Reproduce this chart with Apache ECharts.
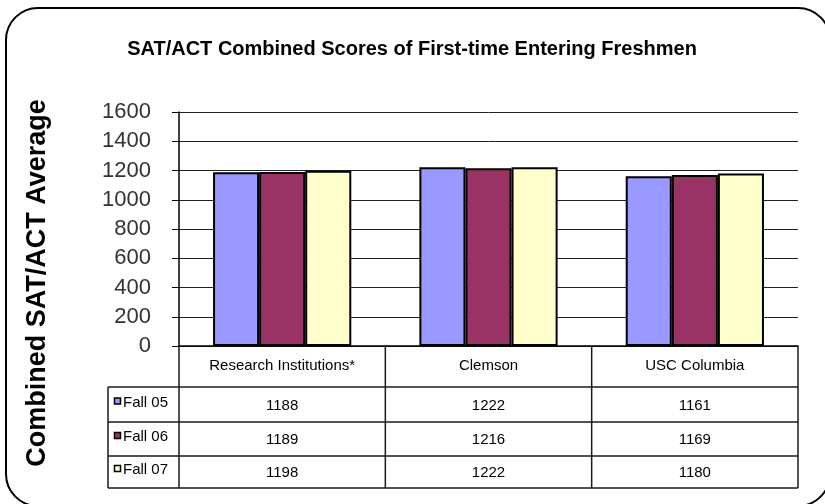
<!DOCTYPE html>
<html><head><meta charset="utf-8">
<script src="https://cdn.jsdelivr.net/npm/echarts@6/dist/echarts.min.js"></script>
<style>html,body{margin:0;padding:0;background:#fff}#c{width:825px;height:504px}</style>
</head><body><div id="c"></div>
<script>
const titleText = 'SAT/ACT Combined Scores of First-time Entering Freshmen';
const yAxisTitle = 'Combined SAT/ACT Average';
const categories = ['Research Institutions*', 'Clemson', 'USC Columbia'];
const seriesNames = ['Fall 05', 'Fall 06', 'Fall 07'];
const fall05 = [1188, 1222, 1161];
const fall06 = [1189, 1216, 1169];
const fall07 = [1198, 1222, 1180];
const yMin = 0, yMax = 1600, yStep = 200;
const colors = ['#9999FF', '#993366', '#FFFFCC'];
const seriesData = [fall05, fall06, fall07];

const FONT = '"Liberation Sans", Arial, sans-serif';
const W = 825, H = 504;
const gridL = 179, gridR = 798, gridT = 112, gridB = 346;
const rowY = [gridB, 387, 422, 456, 488];
const legendL = 108;

const chart = echarts.init(document.getElementById('c'), null, {renderer: 'canvas'});

const lineStyle = {stroke: '#1a1a1a', lineWidth: 1.5};
const graphics = [];
// frame
graphics.push({type: 'rect', z: 0, shape: {x: 6, y: 8, width: 824, height: 498, r: 32},
  style: {fill: 'none', stroke: '#000', lineWidth: 2}});
// title
graphics.push({type: 'text', x: 412, y: 49, style: {text: titleText, font: 'bold 20px ' + FONT,
  fill: '#000', align: 'center', verticalAlign: 'middle'}});
// y axis title
graphics.push({type: 'text', x: 38, y: 283, rotation: Math.PI / 2, style: {text: yAxisTitle,
  font: 'bold 27px ' + FONT, fill: '#000', align: 'center', verticalAlign: 'middle'}});

const catW = (gridR - gridL) / categories.length;
// horizontal table lines
for (let r = 1; r < rowY.length; r++) {
  graphics.push({type: 'line', z: 10, shape: {x1: legendL, y1: rowY[r], x2: gridR, y2: rowY[r]}, style: lineStyle});
}
// vertical table lines
for (let i = 0; i <= categories.length; i++) {
  const x = gridL + i * catW;
  graphics.push({type: 'line', z: 10, shape: {x1: x, y1: gridB, x2: x, y2: rowY[4]}, style: lineStyle});
}
graphics.push({type: 'line', z: 10, shape: {x1: legendL, y1: rowY[1], x2: legendL, y2: rowY[4]}, style: lineStyle});
// legend keys + values
seriesNames.forEach((name, s) => {
  const cy = (rowY[s + 1] + rowY[s + 2]) / 2;
  graphics.push({type: 'rect', z: 11, shape: {x: 114.5, y: cy - 6.5, width: 6, height: 6},
    style: {fill: colors[s], stroke: '#000', lineWidth: 1.5}});
  graphics.push({type: 'text', z: 11, x: 123, y: cy - 2, style: {text: name, font: '15px ' + FONT,
    fill: '#000', align: 'left', verticalAlign: 'middle'}});
  seriesData[s].forEach((v, i) => {
    graphics.push({type: 'text', z: 11, x: gridL + (i + 0.5) * catW, y: cy + 1,
      style: {text: String(v), font: '15px ' + FONT, fill: '#000', align: 'center', verticalAlign: 'middle'}});
  });
});

chart.setOption({
  animation: false,
  backgroundColor: '#fff',
  grid: {left: gridL, right: W - gridR, top: gridT, bottom: H - gridB, containLabel: false},
  xAxis: {
    type: 'category', data: categories,
    axisLine: {show: true, lineStyle: {color: '#000', width: 1.5}},
    axisTick: {show: false},
    axisLabel: {fontFamily: FONT, fontSize: 15, color: '#000', margin: 12}
  },
  yAxis: {
    type: 'value', min: yMin, max: yMax, interval: yStep,
    axisLine: {show: true, lineStyle: {color: '#000', width: 1.5}},
    axisTick: {show: true, length: 7, lineStyle: {color: '#000', width: 1}},
    axisLabel: {fontFamily: FONT, fontSize: 22, color: '#333', margin: 28, formatter: v => String(v)},
    splitLine: {show: true, lineStyle: {color: '#222', width: 1}}
  },
  series: seriesNames.map((name, s) => ({
    name, type: 'bar', data: seriesData[s],
    barGap: '0%', barCategoryGap: '33%',
    itemStyle: {color: colors[s], borderColor: '#000', borderWidth: 2}
  })),
  graphic: graphics
});
</script>
</body></html>
